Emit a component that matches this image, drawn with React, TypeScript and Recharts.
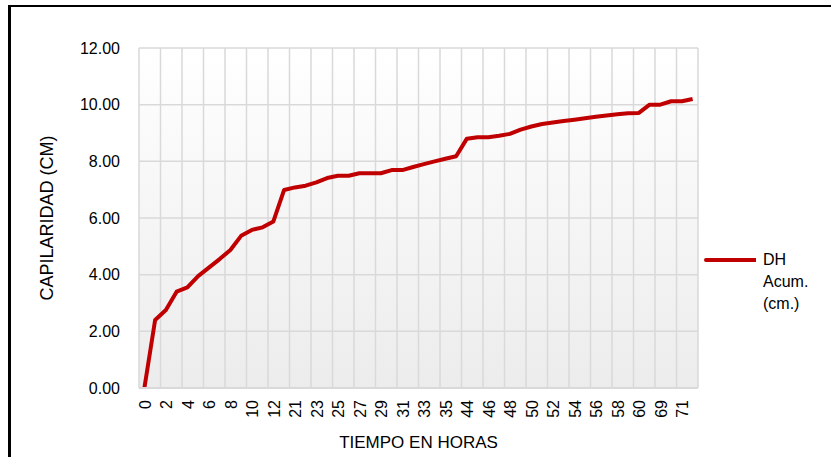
import { LineChart, Line, XAxis, YAxis, CartesianGrid, Legend, Label } from 'recharts';

const horas = [
  '0', '1', '2', '3', '4', '5', '6', '7', '8', '9', '10', '11', '12',
  '20', '21', '22', '23', '24', '25', '26', '27', '28', '29', '30', '31', '32', '33', '34', '35', '36',
  '44', '45', '46', '47', '48', '49', '50', '51', '52', '53', '54', '55', '56', '57', '58', '59', '60',
  '68', '69', '70', '71', '72',
];

const dhAcum = [
  0.0, 2.4, 2.75, 3.4, 3.55, 3.95, 4.25, 4.55, 4.87, 5.37, 5.58, 5.67, 5.88,
  6.99, 7.08, 7.14, 7.26, 7.41, 7.49, 7.49, 7.58, 7.58, 7.58, 7.69, 7.69, 7.8, 7.9, 8.0, 8.09, 8.18,
  8.8, 8.85, 8.85, 8.9, 8.97, 9.12, 9.23, 9.32, 9.37, 9.42, 9.47, 9.52, 9.57, 9.62, 9.66, 9.7, 9.71,
  10.0, 10.0, 10.12, 10.12, 10.2,
];

const yTicks = [0, 2, 4, 6, 8, 10, 12];

const data = horas.map((h, i) => ({ hora: h, dh: dhAcum[i] }));

const W = 831;
const H = 457;
const margin = { top: 48, right: 133, bottom: 0, left: 0 };
const yAxisWidth = 139;
const plotWidth = W - margin.left - margin.right - yAxisWidth;
const halfBand = plotWidth / horas.length / 2;
const font = '"Liberation Sans", Arial, sans-serif';

const XTick = (props: any) => {
  const { x, y, payload } = props;
  return (
    <text
      x={x + 1}
      y={y}
      transform={`rotate(-90 ${x + 1} ${y})`}
      textAnchor="end"
      dominantBaseline="central"
      fontSize={16}
      fill="#000"
      fontFamily={font}
    >
      {payload.value}
    </text>
  );
};

const LegendBox = () => (
  <div style={{ display: 'flex', alignItems: 'flex-start', fontFamily: font, fontSize: 16, color: '#000' }}>
    <svg width={58} height={22} style={{ flex: 'none' }}>
      <line x1={8} y1={11} x2={58} y2={11} stroke="#c00000" strokeWidth={4} strokeLinecap="round" />
    </svg>
    <div style={{ lineHeight: '22px', marginLeft: 7 }}>
      DH<br />Acum.<br />(cm.)
    </div>
  </div>
);

export default function App() {
  return (
    <div style={{ position: 'absolute', left: 0, top: 0, width: W, height: H, overflow: 'hidden', background: '#fff' }}>
      <div
        style={{
          position: 'absolute',
          left: 8,
          top: 5,
          width: W,
          height: H,
          borderLeft: '3px solid #000',
          borderTop: '2px solid #000',
        }}
      />
      <div style={{ position: 'absolute', left: 0, top: 0 }}>
        <LineChart width={W} height={H} data={data} margin={margin}>
          <defs>
            <linearGradient id="plotBg" x1="0" y1="0" x2="0" y2="1">
              <stop offset="0%" stopColor="#ffffff" />
              <stop offset="100%" stopColor="#ececec" />
            </linearGradient>
          </defs>
          <CartesianGrid
            stroke="#d9d9d9"
            strokeWidth={1.5}
            fill="url(#plotBg)"
            verticalCoordinatesGenerator={({ offset }: any) => {
              const n = horas.length / 2;
              return Array.from({ length: n + 1 }, (_, k) => offset.left + (k * offset.width) / n);
            }}
          />
          <XAxis
            dataKey="hora"
            type="category"
            interval={1}
            height={69}
            padding={{ left: halfBand, right: halfBand }}
            tickLine={false}
            tickSize={0}
            tickMargin={12}
            axisLine={{ stroke: '#d9d9d9', strokeWidth: 2 }}
            tick={<XTick />}
          >
            <Label
              value="TIEMPO EN HORAS"
              position="insideBottom"
              offset={9}
              style={{ fontFamily: font, fontSize: 17, fill: '#000' }}
            />
          </XAxis>
          <YAxis
            width={yAxisWidth}
            domain={[0, 12]}
            ticks={yTicks}
            tickFormatter={(v: number) => v.toFixed(2)}
            axisLine={false}
            tickLine={false}
            tickSize={0}
            tickMargin={19}
            tick={{ fontFamily: font, fontSize: 16, fill: '#000' }}
          >
            <Label
              content={({ viewBox }: any) => {
                const cx = 47;
                const cy = viewBox.y + viewBox.height / 2;
                return (
                  <text
                    x={cx}
                    y={cy}
                    transform={`rotate(-90 ${cx} ${cy})`}
                    textAnchor="middle"
                    dominantBaseline="central"
                    fontFamily={font}
                    fontSize={18}
                    fill="#000"
                  >
                    CAPILARIDAD (CM)
                  </text>
                );
              }}
            />
          </YAxis>
          <Legend
            layout="horizontal"
            verticalAlign="middle"
            align="center"
            content={<LegendBox />}
            wrapperStyle={{ left: 698, top: 249, width: 130 }}
          />
          <Line
            type="linear"
            dataKey="dh"
            name="DH Acum. (cm.)"
            stroke="#c00000"
            strokeWidth={4}
            strokeLinejoin="round"
            dot={false}
            isAnimationActive={false}
          />
        </LineChart>
      </div>
    </div>
  );
}
